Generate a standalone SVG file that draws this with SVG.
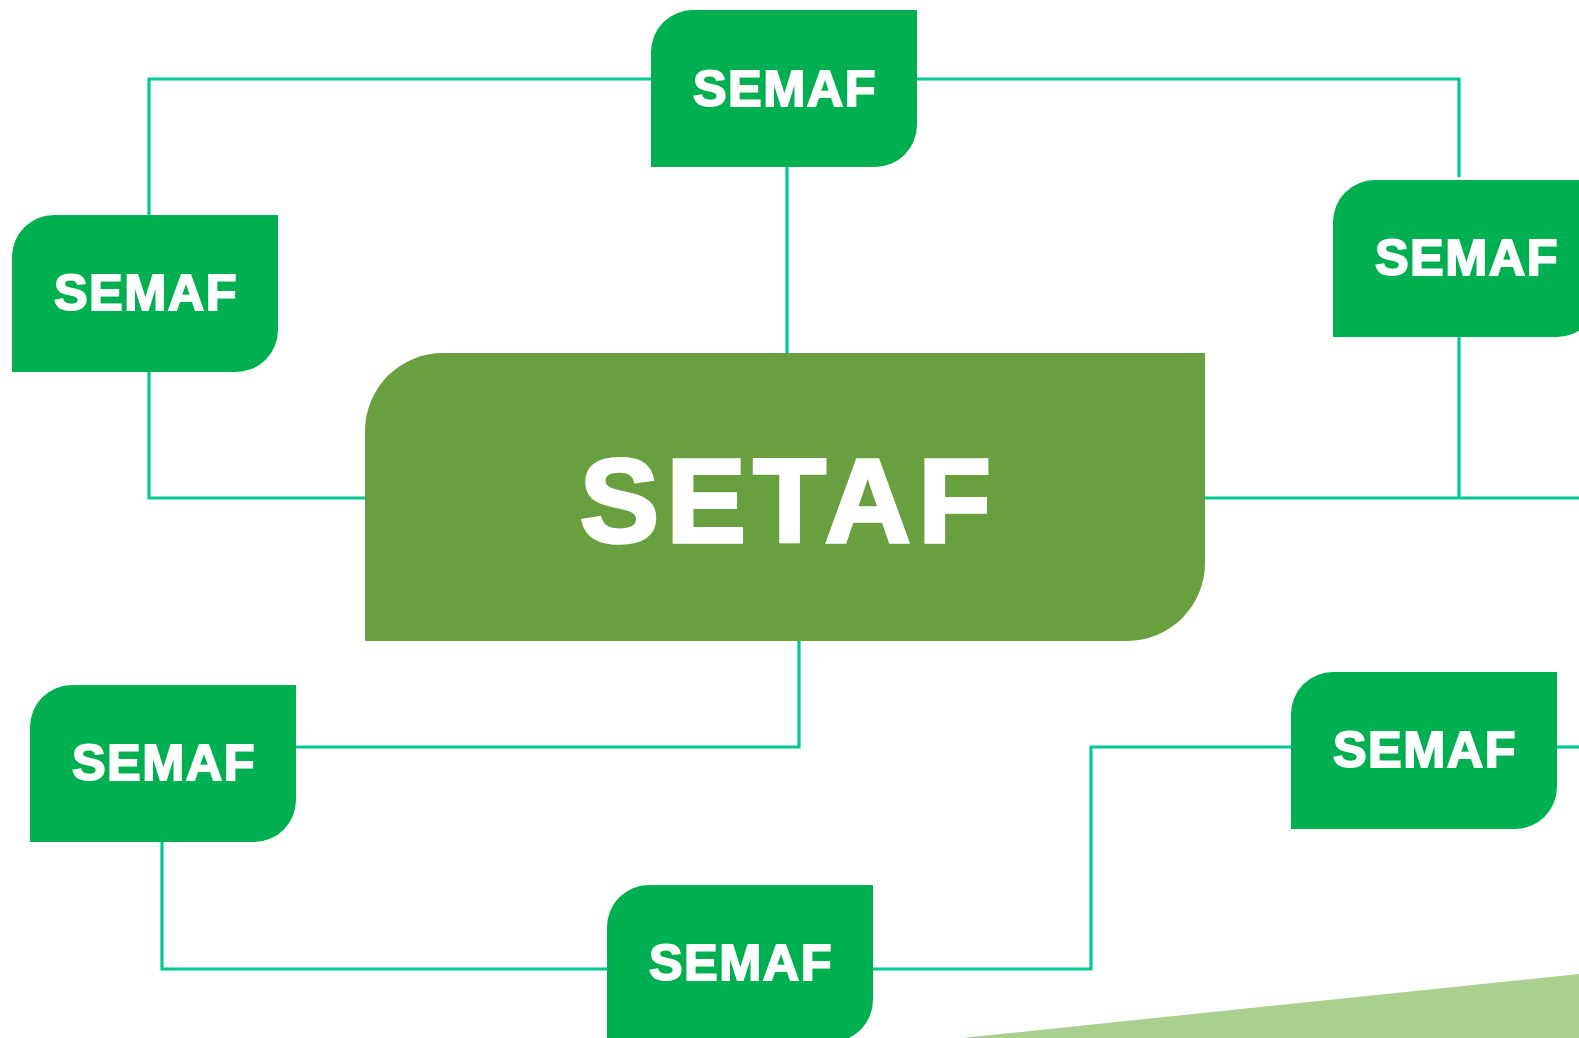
<svg xmlns="http://www.w3.org/2000/svg" xmlns:xlink="http://www.w3.org/1999/xlink" width="1579" height="1038" viewBox="0 0 1579 1038">
  <style>
    .conn { fill: none; stroke: #00C896; stroke-width: 3.2; }
    .node { fill: #00AF50; }
    .main { fill: #689F3F; }
    .lbl { font-family: "Liberation Sans", Arial, sans-serif; font-weight: bold; fill: #FFFFFF; stroke: #FFFFFF; text-anchor: middle; }
    .sm { font-size: 50.5px; stroke-width: 1.8; letter-spacing: 1.5px; }
    .lg { font-size: 119px; stroke-width: 3.5; letter-spacing: 7.5px; }
  </style>
  <defs>
    <path id="semafShape" d="M42 0 H266 V115 A42 42 0 0 1 224 157 H0 V42 A42 42 0 0 1 42 0 Z"/>
  </defs>
  <rect width="1579" height="1038" fill="#FFFFFF"/>
  <polygon points="962,1038 1579,974 1579,1038" fill="#A9D08E"/>
  <g id="connectors">
    <path class="conn" d="M651 79 H149 V215"/>
    <path class="conn" d="M917 79 H1459 V177"/>
    <path class="conn" d="M1459 337 V498"/>
    <path class="conn" d="M787 167 V353"/>
    <path class="conn" d="M149 346 V498 H365"/>
    <path class="conn" d="M1205 498 H1579"/>
    <path class="conn" d="M799 641 V747 H296"/>
    <path class="conn" d="M162 842 V969 H607"/>
    <path class="conn" d="M873 969 H1091 V747 H1291"/>
    <path class="conn" d="M1557 747 H1579"/>
  </g>
  <g id="node-setaf">
    <path class="main" d="M443 353 H1205 V563 A78 78 0 0 1 1127 641 H365 V431 A78 78 0 0 1 443 353 Z"/>
    <text class="lbl lg" x="789" y="542">SETAF</text>
  </g>
  <g id="node-semaf-top">
    <use xlink:href="#semafShape" class="node" transform="translate(651,10)"/>
    <text class="lbl sm" x="785" y="106">SEMAF</text>
  </g>
  <g id="node-semaf-left">
    <use xlink:href="#semafShape" class="node" transform="translate(12,215)"/>
    <text class="lbl sm" x="146" y="310">SEMAF</text>
  </g>
  <g id="node-semaf-right-top">
    <use xlink:href="#semafShape" class="node" transform="translate(1333,180)"/>
    <text class="lbl sm" x="1467" y="275">SEMAF</text>
  </g>
  <g id="node-semaf-bottom-left">
    <use xlink:href="#semafShape" class="node" transform="translate(30,685)"/>
    <text class="lbl sm" x="164" y="780">SEMAF</text>
  </g>
  <g id="node-semaf-bottom">
    <use xlink:href="#semafShape" class="node" transform="translate(607,885)"/>
    <text class="lbl sm" x="741" y="980">SEMAF</text>
  </g>
  <g id="node-semaf-right-bottom">
    <use xlink:href="#semafShape" class="node" transform="translate(1291,672)"/>
    <text class="lbl sm" x="1425" y="767">SEMAF</text>
  </g>
</svg>
